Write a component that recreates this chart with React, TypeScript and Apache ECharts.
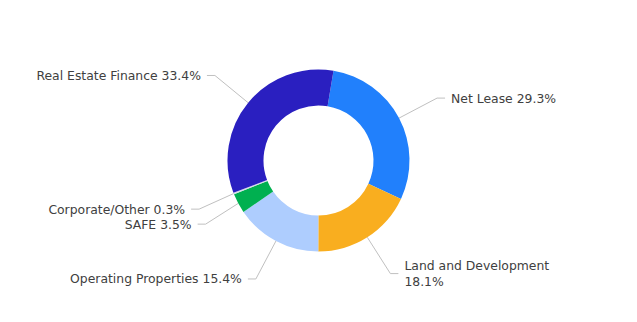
import React, { useEffect, useRef } from "react";
import * as echarts from "echarts";

const categories = [
  "Net Lease",
  "Land and Development",
  "Operating Properties",
  "SAFE",
  "Corporate/Other",
  "Real Estate Finance",
];
const values = [29.3, 18.1, 15.4, 3.5, 0.3, 33.4];
const colors = ["#2180fc", "#f9ae1f", "#aecdfe", "#00b050", "#d6dbe8", "#2a1fc0"];
const wrapped = ["Land and Development"];

export default function App() {
  const ref = useRef<HTMLDivElement>(null);
  useEffect(() => {
    document.body.style.margin = "0";
    const chart = echarts.init(ref.current!, null, { renderer: "svg" });
    chart.setOption({
      animation: false,
      backgroundColor: "#ffffff",
      series: [
        {
          type: "pie",
          center: [318.5, 160.5],
          radius: [55, 91],
          startAngle: 80.5,
          clockwise: true,
          avoidLabelOverlap: true,
          itemStyle: { borderWidth: 0 },
          label: {
            show: true,
            position: "outside",
            color: "#404040",
            fontSize: 12.4,
            fontFamily: "DejaVu Sans",
            lineHeight: 13,
            distanceToLabelLine: 6,
            formatter: (p: any) =>
              wrapped.includes(p.name) ? `${p.name}\n${p.value}%` : `${p.name} ${p.value}%`,
          },
          labelLine: {
            show: true,
            length: 43,
            length2: 8,
            lineStyle: { color: "#c0c0c0", width: 1 },
          },
          data: categories.map((c, i) => ({
            name: c,
            value: values[i],
            itemStyle: { color: colors[i] },
            label: wrapped.includes(c) ? { align: "left", lineHeight: 16 } : undefined,
          })),
        },
      ],
    });
    return () => chart.dispose();
  }, []);
  return <div ref={ref} style={{ width: 637, height: 322 }} />;
}
